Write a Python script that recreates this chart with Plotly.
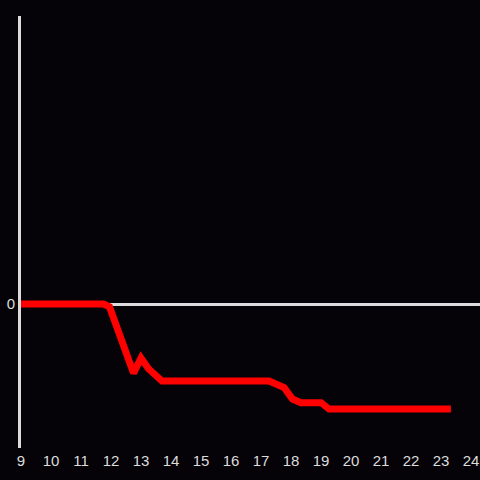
import plotly.graph_objects as go

x_vals = [9, 11.75, 11.95, 12.75, 13.0, 13.25, 13.7, 17.27, 17.77, 18.05, 18.33, 19.0, 19.27, 23.33]
y_vals = [0, 0, -0.02, -0.48, -0.375, -0.45, -0.535, -0.535, -0.58, -0.66, -0.685, -0.685, -0.73, -0.73]
x_ticks = list(range(9, 25))
y_ticks = [0]

bg = "rgb(5,3,8)"
fg = "#dcdcdc"

fig = go.Figure()
fig.add_trace(go.Scatter(x=x_vals, y=y_vals, mode="lines",
                         line=dict(color="#ff0000", width=7),
                         hoverinfo="skip", showlegend=False))

fig.update_layout(
    width=480, height=480,
    margin=dict(l=21, r=0, t=16, b=32),
    paper_bgcolor=bg, plot_bgcolor=bg,
    font=dict(family="Liberation Sans, Arial, sans-serif", size=15, color=fg),
    showlegend=False,
)
fig.update_xaxes(range=[9, 24.3], tickvals=x_ticks, ticktext=[str(v) for v in x_ticks],
                 showgrid=False, zeroline=False, showline=False, ticks="",
                 ticklabelstandoff=2,
                 tickfont=dict(color=fg, size=15))
fig.update_yaxes(range=[-1, 2], tickvals=y_ticks, ticktext=["0"],
                 showgrid=False, zeroline=True, zerolinecolor=fg, zerolinewidth=3,
                 showline=True, linecolor=fg, linewidth=3, ticks="",
                 tickfont=dict(color=fg, size=15))

fig.write_html("out.html", config={"displayModeBar": False},
               post_script="document.body.style.margin='0';document.body.style.background='rgb(5,3,8)';")
